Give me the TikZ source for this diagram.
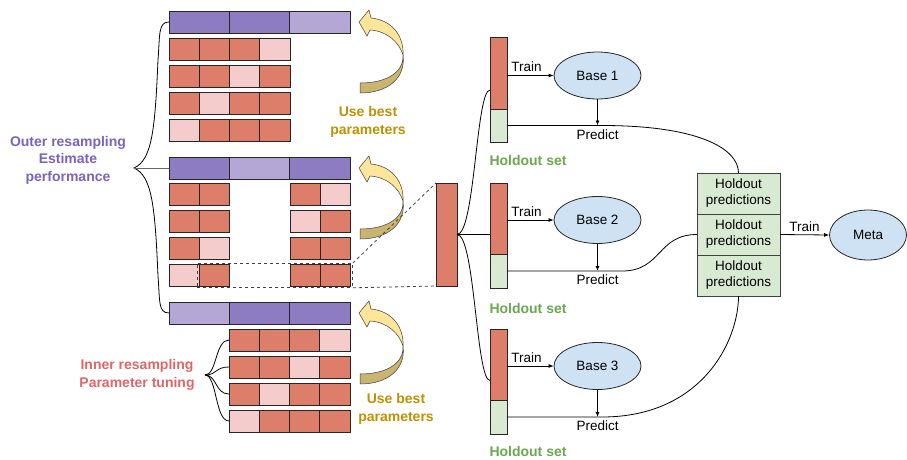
\documentclass[tikz,border=0pt]{standalone}
\usepackage{fontspec}
\setmainfont{Liberation Sans}
\usetikzlibrary{positioning,arrows.meta,shapes.geometric}

\definecolor{foldred}{HTML}{DD7E6B}
\definecolor{foldpink}{HTML}{F4CCCC}
\definecolor{outerdark}{HTML}{8E7CC3}
\definecolor{outerlight}{HTML}{B4A7D6}
\definecolor{holdgreen}{HTML}{D9EAD3}
\definecolor{modelblue}{HTML}{CFE2F3}
\definecolor{arrowyellow}{HTML}{FFE599}
\definecolor{arrowtan}{HTML}{C9B470}
\definecolor{outertext}{HTML}{7A63BD}
\definecolor{innertext}{HTML}{E06666}
\definecolor{besttext}{HTML}{BF9000}
\definecolor{holdtext}{HTML}{6AA84F}

\tikzset{
	cell/.style={draw=black!85,line width=0.9pt},
	bar/.style={draw=black!85,line width=0.9pt,inner sep=0pt,outer sep=0pt,minimum width=17pt,anchor=north west},
	model/.style={ellipse,draw=black!85,fill=modelblue,line width=0.8pt,minimum width=87pt,minimum height=47pt,inner sep=0pt},
	predbox/.style={draw=black!75,fill=holdgreen,line width=0.9pt,minimum width=83pt,minimum height=41pt,inner sep=0pt,outer sep=0pt,align=center,font=\fontsize{13.5}{16}\selectfont},
	lbl/.style={font=\fontsize{14}{17.5}\selectfont\bfseries,align=center},
	plain/.style={font=\fontsize{13.5}{16}\selectfont,inner sep=1.5pt},
	conn/.style={line width=0.8pt},
	tip/.style={conn,-{Latex[length=5pt,width=4pt]}},
	bestarrow/.pic={
		% light upper half with head
		\filldraw[fill=arrowyellow,draw=black!75,line width=0.5pt]
			   (0,0) -- (10,-12) -- (12,-4)
			.. controls (33,-2) and (45,14) .. (44,33)
			.. controls (40,20) and (28,9) .. (11,8)
			-- (8,14) -- cycle;
		% twisted lower half
		\filldraw[fill=arrowtan,draw=black!75,line width=0.5pt]
			   (44,33)
			.. controls (45,50) and (28,61) .. (1,61)
			-- (1,71)
			.. controls (30,71) and (47,55) .. (44,33) -- cycle;
	}
}

\begin{document}
\begin{tikzpicture}[x=1pt,y=-1pt]
	\useasboundingbox (0,0) rectangle (907,460);

	% outer folds
	\foreach \x/\f in {169/outerdark,229.3/outerdark,289.7/outerlight}
		\draw[cell,fill=\f] (\x,11) rectangle +(60.3,22);
	\foreach \x/\f in {169/outerdark,229.3/outerlight,289.7/outerdark}
		\draw[cell,fill=\f] (\x,157) rectangle +(60.3,22);
	\foreach \x/\f in {169/outerlight,229.3/outerdark,289.7/outerdark}
		\draw[cell,fill=\f] (\x,302) rectangle +(60.3,22);

	% inner folds, first split
	\foreach \r/\lt in {0/4,1/3,2/2,3/1}
		\foreach \c in {1,...,4}{
			\ifnum\c=\lt\def\fc{foldpink}\else\def\fc{foldred}\fi
			\draw[cell,fill=\fc] ({169+30.25*(\c-1)},{38+27*\r}) rectangle +(30.25,22);
		}

	% inner folds, second split
	\foreach \x/\y/\f in {169/183/foldred,199/183/foldred,290/183/foldred,320/183/foldpink,
	                      169/210/foldred,199/210/foldred,290/210/foldpink,320/210/foldred,
	                      169/237/foldred,199/237/foldpink,290/237/foldred,320/237/foldred,
	                      169/264/foldpink,199/264/foldred,290/264/foldred,320/264/foldred}
		\draw[cell,fill=\f] (\x,\y) rectangle +(30,22);

	% inner folds, third split
	\foreach \r/\lt in {0/4,1/3,2/2,3/1}
		\foreach \c in {1,...,4}{
			\ifnum\c=\lt\def\fc{foldpink}\else\def\fc{foldred}\fi
			\draw[cell,fill=\fc] ({229+30.25*(\c-1)},{329+27*\r}) rectangle +(30.25,22);
		}

	% use best parameters arrows
	\pic at (359,22) {bestarrow};
	\pic at (359,168) {bestarrow};
	\pic at (359,313) {bestarrow};
	\node[lbl,text=besttext] (best1) at (368,122) {Use best\\parameters};
	\node[lbl,text=besttext] (best3) at (396,409) {Use best\\parameters};

	% outer resampling brace
	\node[lbl,text=outertext] (outerlbl) at (68,160) {Outer resampling\\Estimate\\performance};
	\coordinate (obrace) at (134,168);
	\coordinate (outerA) at (169,22);
	\coordinate (outerB) at (169,168);
	\coordinate (outerC) at (169,313);
	\draw[conn]
		   (outerA)
		.. controls (158,22) and (160,35) .. (158,60)
		.. controls (155,130) and (152,160) .. (obrace)
		.. controls (152,176) and (155,206) .. (158,276)
		.. controls (160,301) and (158,313) .. (outerC);
	\draw[black!60,line width=1pt] (obrace) -- (outerB);

	% inner resampling brace
	\node[lbl,text=innertext] (innerlbl) at (137,375) {Inner resampling\\Parameter tuning};
	\coordinate (ibrace) at (205,375);
	\foreach \k in {0,...,3}{
		\coordinate (inner\k) at (229,{340+27*\k});
		\draw[conn] (ibrace) .. controls (217,375) and (215,{340+27*\k}) .. (inner\k);
	}

	% picked fold
	\node[draw=black!75,dashed,line width=0.8pt,minimum width=155pt,minimum height=24pt,inner sep=0pt,anchor=north west] (pick) at (197,263) {};
	\node[bar,fill=foldred,minimum width=21pt,minimum height=103pt] (bigbar) at (436,183) {};
	\draw[black!75,dashed,line width=0.8pt] (pick.north east) -- (bigbar.north west);
	\draw[black!75,dashed,line width=0.8pt] (pick.south east) -- (bigbar.south west);

	% base model splits
	\node[bar,fill=foldred,minimum height=72pt] (trainbar1) at (490,37) {};
	\node[bar,fill=holdgreen,minimum height=33pt] (holdbar1) at (490,109) {};
	\node[bar,fill=foldred,minimum height=71pt] (trainbar2) at (490,183) {};
	\node[bar,fill=holdgreen,minimum height=34pt] (holdbar2) at (490,254) {};
	\node[bar,fill=foldred,minimum height=71pt] (trainbar3) at (490,329) {};
	\node[bar,fill=holdgreen,minimum height=34pt] (holdbar3) at (490,400) {};
	\node[lbl,text=holdtext] (hold1) at (528,160) {Holdout set};
	\node[lbl,text=holdtext] (hold2) at (528,308) {Holdout set};
	\node[lbl,text=holdtext] (hold3) at (528,451) {Holdout set};

	\draw[conn] (bigbar.east) .. controls +(18,0) and +(-14,0) .. ([yshift=-17pt]trainbar1.west);
	\draw[conn] (bigbar.east) -- (bigbar.east -| trainbar2.west);
	\draw[conn] (bigbar.east) .. controls +(18,0) and +(-14,0) .. ([yshift=-16pt]trainbar3.west);

	% base models
	\node[model,plain] (base1) at (597.5,75.5) {Base 1};
	\node[model,plain] (base2) at (597.5,220) {Base 2};
	\node[model,plain] (base3) at (597.5,366) {Base 3};
	\foreach \i in {1,2,3}{
		\draw[tip] (base\i.west -| trainbar\i.east) -- node[plain,above,pos=0.42,yshift=1.5pt] {Train} (base\i.west);
		\draw[tip] (base\i.south) -- (base\i.south |- holdbar\i.east) node[plain,below,yshift=-2pt] {Predict};
	}

	% holdout predictions
	\node[predbox,anchor=north west] (hp1) at (697,173) {Holdout\\predictions};
	\node[predbox,below=0pt of hp1] (hp2) {Holdout\\predictions};
	\node[predbox,below=0pt of hp2] (hp3) {Holdout\\predictions};

	\draw[conn] (holdbar1.east) -- ++(95,0) .. controls +(95,0) and +(0,-25) .. (hp1.north);
	\draw[conn] (holdbar2.east) -- ++(115,0) .. controls +(40,0) and +(-40,0) .. (hp2.west);
	\draw[conn] (holdbar3.east) -- ++(95,0) .. controls +(100,0) and +(0,45) .. (hp3.south);

	% meta model
	\node[model,plain,minimum width=77pt,minimum height=50pt] (meta) at (868,235) {Meta};
	\draw[tip] (hp2.east) -- node[plain,above,yshift=1pt] {Train} (meta.west);
\end{tikzpicture}
\end{document}
